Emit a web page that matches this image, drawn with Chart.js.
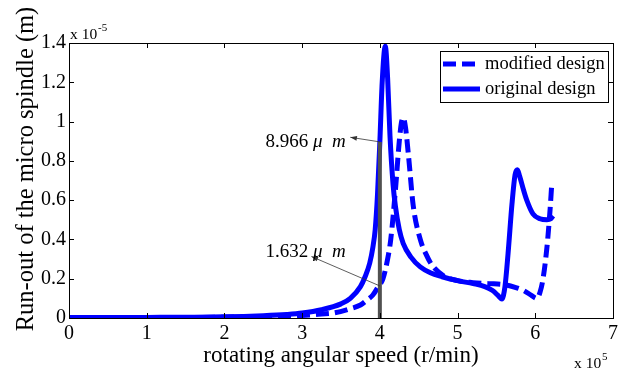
<!DOCTYPE html>
<html>
<head>
<meta charset="utf-8">
<script src="https://cdn.jsdelivr.net/npm/chart.js@4/dist/chart.umd.min.js"></script>
<style>
  html, body { margin: 0; padding: 0; background: #fff; }
</style>
</head>
<body>
<canvas id="chart" width="625" height="370"></canvas>
<script>
// x in units of 1e5 r/min, y in units of 1e-5 m
const xTickValues = [0, 1, 2, 3, 4, 5, 6, 7];
const yTickValues = [0, 0.2, 0.4, 0.6, 0.8, 1, 1.2, 1.4];
const seriesLabels = ["modified design", "original design"];

const originalX = [0, 0.5, 1, 1.5, 2, 2.5, 2.8, 3, 3.25, 3.5, 3.62, 3.75, 3.81, 3.87, 3.91, 3.94, 3.97, 4.0, 4.03, 4.07, 4.1, 4.13, 4.17, 4.2, 4.25, 4.3, 4.4, 4.52, 4.65, 4.8, 5.0, 5.2, 5.35, 5.45, 5.52, 5.57, 5.61, 5.65, 5.7, 5.74, 5.77, 5.8, 5.85, 5.89, 5.97, 6.06, 6.15, 6.2, 6.23];
const originalY = [0.002, 0.002, 0.003, 0.004, 0.006, 0.012, 0.018, 0.025, 0.042, 0.072, 0.1, 0.16, 0.21, 0.28, 0.36, 0.45, 0.63, 0.897, 1.2, 1.384, 1.22, 0.93, 0.68, 0.57, 0.45, 0.38, 0.31, 0.26, 0.23, 0.21, 0.19, 0.175, 0.16, 0.14, 0.115, 0.097, 0.16, 0.33, 0.58, 0.73, 0.755, 0.72, 0.65, 0.6, 0.53, 0.505, 0.5, 0.505, 0.52];

const modifiedX = [0, 1, 2, 2.5, 3, 3.25, 3.4, 3.6, 3.75, 3.83, 3.91, 3.98, 4.04, 4.1, 4.14, 4.2, 4.25, 4.28, 4.3, 4.33, 4.37, 4.43, 4.52, 4.6, 4.67, 4.82, 5.0, 5.2, 5.4, 5.6, 5.75, 5.85, 5.95, 6.02, 6.06, 6.1, 6.15, 6.19, 6.21];
const modifiedY = [0.002, 0.002, 0.004, 0.007, 0.013, 0.02, 0.025, 0.045, 0.066, 0.09, 0.117, 0.16, 0.2, 0.3, 0.4, 0.65, 0.9, 1.0, 1.02, 0.97, 0.82, 0.57, 0.4, 0.32, 0.27, 0.215, 0.19, 0.18, 0.175, 0.17, 0.155, 0.14, 0.115, 0.1, 0.13, 0.2, 0.36, 0.55, 0.67];

const markerX = [4, 4];
const markerY = [0, 0.8966];

const noteValues = ["8.966", "1.632"];
const noteFromX = [4, 4];
const noteFromY = [0.8966, 0.1632];
const noteTipX = [3.62, 3.12];
const noteTipY = [0.92, 0.313];
const noteTextX = [3.56, 3.56];
const noteTextY = [0.87, 0.31];

const serif = "'Liberation Serif', 'Times New Roman', serif";
const blue = "#0000ff";

function toPoints(xs, ys) {
  return xs.map((x, i) => ({ x: x, y: ys[i] }));
}

const framePlugin = {
  id: "frame",
  afterDatasetsDraw(chart) {
    const { ctx, chartArea: a, scales } = chart;
    const xs = scales.x, ys = scales.y;
    ctx.save();

    // axes box and inward ticks on all sides
    ctx.strokeStyle = "#000";
    ctx.lineWidth = 1;
    ctx.strokeRect(a.left + 0.5, a.top + 0.5, a.right - a.left, a.bottom - a.top);
    ctx.beginPath();
    xTickValues.forEach(v => {
      const px = Math.round(xs.getPixelForValue(v)) + 0.5;
      ctx.moveTo(px, a.bottom); ctx.lineTo(px, a.bottom - 5);
      ctx.moveTo(px, a.top); ctx.lineTo(px, a.top + 5);
    });
    yTickValues.forEach(v => {
      const py = Math.round(ys.getPixelForValue(v)) + 0.5;
      ctx.moveTo(a.left, py); ctx.lineTo(a.left + 5, py);
      ctx.moveTo(a.right, py); ctx.lineTo(a.right - 5, py);
    });
    ctx.stroke();

    // exponent labels
    ctx.fillStyle = "#000";
    ctx.textBaseline = "alphabetic";
    ctx.textAlign = "left";
    ctx.font = "15.5px " + serif;
    ctx.fillText("x 10", a.left + 1, a.top - 4);
    ctx.font = "11px " + serif;
    ctx.fillText("-5", a.left + 29, a.top - 12);
    ctx.font = "15.5px " + serif;
    ctx.fillText("x 10", a.right - 39, 368);
    ctx.font = "11px " + serif;
    ctx.fillText("5", a.right - 11, 360);

    // y title
    ctx.save();
    ctx.translate(32.5, 169);
    ctx.rotate(-Math.PI / 2);
    ctx.textAlign = "center";
    ctx.font = "24.5px " + serif;
    ctx.fillText("Run-out of the micro spindle (m)", 0, 0);
    ctx.restore();

    // annotations with arrows
    noteValues.forEach((val, i) => {
      const fx = xs.getPixelForValue(noteFromX[i]), fy = ys.getPixelForValue(noteFromY[i]);
      const tx = xs.getPixelForValue(noteTipX[i]), ty = ys.getPixelForValue(noteTipY[i]);
      ctx.strokeStyle = "#333";
      ctx.lineWidth = 0.8;
      ctx.beginPath();
      ctx.moveTo(fx, fy); ctx.lineTo(tx, ty);
      ctx.stroke();
      const ang = Math.atan2(ty - fy, tx - fx);
      ctx.fillStyle = "#333";
      ctx.beginPath();
      ctx.moveTo(tx, ty);
      ctx.lineTo(tx - 7 * Math.cos(ang - 0.35), ty - 7 * Math.sin(ang - 0.35));
      ctx.lineTo(tx - 7 * Math.cos(ang + 0.35), ty - 7 * Math.sin(ang + 0.35));
      ctx.closePath();
      ctx.fill();

      const ex = xs.getPixelForValue(noteTextX[i]);
      const by = ys.getPixelForValue(noteTextY[i]);
      ctx.fillStyle = "#000";
      ctx.textAlign = "left";
      ctx.font = "italic 19px " + serif;
      const unit = "\u03bc  m";
      const wu = ctx.measureText(unit).width;
      ctx.font = "19px " + serif;
      const wv = ctx.measureText(val + " ").width;
      ctx.fillText(val + " ", ex - wu - wv, by);
      ctx.font = "italic 19px " + serif;
      ctx.fillText(unit, ex - wu, by);
    });

    // legend
    const lx = 440, ly = 51, lw = 168, lh = 51;
    ctx.fillStyle = "#fff";
    ctx.fillRect(lx, ly, lw, lh);
    ctx.strokeStyle = "#000";
    ctx.lineWidth = 1;
    ctx.strokeRect(lx + 0.5, ly + 0.5, lw, lh);
    chart.data.datasets.slice(0, 2).forEach((ds, i) => {
      const yy = ly + 13 + i * 25;
      ctx.strokeStyle = ds.borderColor;
      ctx.lineWidth = ds.borderWidth;
      ctx.setLineDash(ds.borderDash || []);
      ctx.beginPath();
      ctx.moveTo(lx + 3, yy); ctx.lineTo(lx + 40, yy);
      ctx.stroke();
      ctx.setLineDash([]);
      ctx.fillStyle = "#000";
      ctx.font = "18.5px " + serif;
      ctx.textBaseline = "middle";
      ctx.fillText(ds.label, lx + 45, yy);
    });
    ctx.restore();
  }
};

const ctx = document.getElementById("chart").getContext("2d");
new Chart(ctx, {
  type: "line",
  data: {
    datasets: [
      {
        label: seriesLabels[0],
        data: toPoints(modifiedX, modifiedY),
        borderColor: blue,
        borderWidth: 5,
        borderDash: [13, 6],
        pointRadius: 0,
        cubicInterpolationMode: "monotone",
        order: 2
      },
      {
        label: seriesLabels[1],
        data: toPoints(originalX, originalY),
        borderColor: blue,
        borderWidth: 5,
        pointRadius: 0,
        cubicInterpolationMode: "monotone",
        order: 1
      },
      {
        label: "marker",
        data: toPoints(markerX, markerY),
        borderColor: "#505050",
        borderWidth: 4,
        pointRadius: 0,
        order: 0
      }
    ]
  },
  options: {
    responsive: false,
    animation: false,
    devicePixelRatio: 1,
    layout: { padding: { top: 43, right: 12, left: 0, bottom: 0 } },
    plugins: { legend: { display: false }, tooltip: { enabled: false } },
    scales: {
      x: {
        type: "linear",
        min: 0,
        max: 7,
        afterFit: s => { s.height = 52; },
        afterBuildTicks: s => { s.ticks = xTickValues.map(v => ({ value: v })); },
        grid: { display: false, drawTicks: false },
        border: { display: false },
        ticks: {
          color: "#000",
          padding: 4,
          maxRotation: 0,
          font: { family: serif, size: 20 },
          callback: v => String(v)
        },
        title: {
          display: true,
          text: "rotating angular speed (r/min)",
          color: "#000",
          padding: { top: 0, bottom: 0 },
          font: { family: serif, size: 23 }
        }
      },
      y: {
        type: "linear",
        min: 0,
        max: 1.4,
        afterFit: s => { s.width = 69; },
        afterBuildTicks: s => { s.ticks = yTickValues.map(v => ({ value: v })); },
        grid: { display: false, drawTicks: false },
        border: { display: false },
        ticks: {
          color: "#000",
          padding: 3,
          font: { family: serif, size: 20 },
          callback: v => String(+v.toFixed(1))
        }
      }
    }
  },
  plugins: [framePlugin]
});
</script>
</body>
</html>
